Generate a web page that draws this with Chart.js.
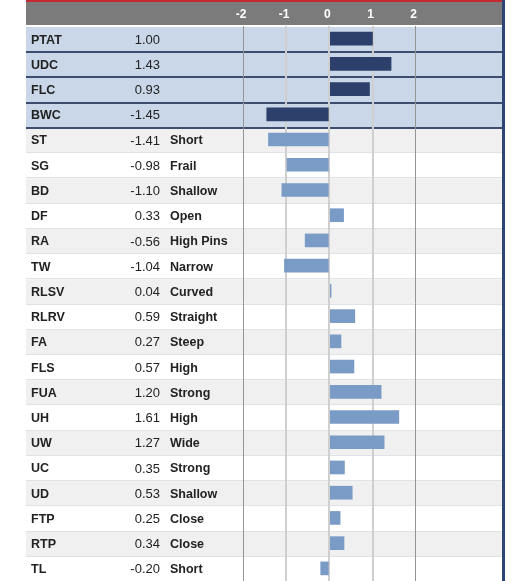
<!DOCTYPE html>
<html>
<head>
<meta charset="utf-8">
<script src="https://cdn.jsdelivr.net/npm/chart.js@4.4.0/dist/chart.umd.min.js"></script>
<style>
  body { margin: 0; background: #fff; }
  #wrap { width: 513px; height: 581px; position: relative; }
</style>
</head>
<body>
<div id="wrap"><canvas id="chart"></canvas></div>
<script>
// Data
const codes = ['PTAT', 'UDC', 'FLC', 'BWC', 'ST', 'SG', 'BD', 'DF', 'RA', 'TW', 'RLSV',
               'RLRV', 'FA', 'FLS', 'FUA', 'UH', 'UW', 'UC', 'UD', 'FTP', 'RTP', 'TL'];
const scores = [1.00, 1.43, 0.93, -1.45, -1.41, -0.98, -1.10, 0.33, -0.56, -1.04, 0.04,
                0.59, 0.27, 0.57, 1.20, 1.61, 1.27, 0.35, 0.53, 0.25, 0.34, -0.20];
const notes = ['', '', '', '', 'Short', 'Frail', 'Shallow', 'Open', 'High Pins', 'Narrow', 'Curved',
               'Straight', 'Steep', 'High', 'Strong', 'High', 'Wide', 'Strong', 'Shallow', 'Close', 'Close', 'Short'];
const tickValues = [-2, -1, 0, 1, 2];
const topGroup = 4; // first rows shown highlighted

const FONT = '"Liberation Sans", Arial, sans-serif';
const TABLE_LEFT = 26, TABLE_RIGHT = 502;

// table backgrounds, header band, row text
const tablePlugin = {
    id: 'table',
    beforeDraw(chart) {
        const ctx = chart.ctx;
        const y = chart.scales.y;
        const area = chart.chartArea;
        const step = (area.bottom - area.top) / codes.length;
        ctx.save();
        ctx.fillStyle = '#c5282f';
        ctx.fillRect(TABLE_LEFT, 0, TABLE_RIGHT - TABLE_LEFT, 2);
        ctx.fillStyle = '#7b7b7b';
        ctx.fillRect(TABLE_LEFT, 2, TABLE_RIGHT - TABLE_LEFT, 23);
        codes.forEach((c, i) => {
            const cy = y.getPixelForValue(i);
            const top = cy - step / 2;
            if (i < topGroup) ctx.fillStyle = '#c9d7e8';
            else ctx.fillStyle = (i - topGroup) % 2 === 0 ? '#f0f0f0' : '#ffffff';
            ctx.fillRect(TABLE_LEFT, top + 1, TABLE_RIGHT - TABLE_LEFT, step);
        });
        codes.forEach((c, i) => {
            const cy = y.getPixelForValue(i);
            const bottom = Math.round(cy + step / 2);
            if (i < topGroup) {
                ctx.fillStyle = '#3d4d6d';
                ctx.fillRect(TABLE_LEFT, bottom, TABLE_RIGHT - TABLE_LEFT, 2);
            } else {
                ctx.fillStyle = '#dfe3e8';
                ctx.fillRect(TABLE_LEFT, bottom, TABLE_RIGHT - TABLE_LEFT, 1);
            }
        });
        ctx.restore();
    },
    afterDraw(chart) {
        const ctx = chart.ctx;
        const y = chart.scales.y;
        ctx.save();
        ctx.textBaseline = 'middle';
        ctx.fillStyle = '#222';
        codes.forEach((c, i) => {
            const cy = y.getPixelForValue(i) + 1.5;
            ctx.font = 'bold 12.5px ' + FONT;
            ctx.textAlign = 'left';
            ctx.fillText(c, 31, cy);
            ctx.font = '13px ' + FONT;
            ctx.textAlign = 'right';
            ctx.fillText(scores[i].toFixed(2), 160, cy);
            if (notes[i]) {
                ctx.font = 'bold 12.5px ' + FONT;
                ctx.textAlign = 'left';
                ctx.fillText(notes[i], 170, cy);
            }
        });
        ctx.fillStyle = '#2f4675';
        ctx.fillRect(502, 0, 3, 581);
        ctx.restore();
    }
};

new Chart(document.getElementById('chart'), {
    type: 'bar',
    data: {
        labels: codes,
        datasets: [{
            data: scores,
            backgroundColor: codes.map((c, i) => i < topGroup ? '#2d406b' : '#7a9bc5'),
            borderWidth: 0,
            barThickness: 13
        }]
    },
    options: {
        indexAxis: 'y',
        responsive: true,
        maintainAspectRatio: false,
        animation: false,
        layout: { padding: { left: 243, right: 11, top: 2, bottom: 0 } },
        plugins: { legend: { display: false }, tooltip: { enabled: false } },
        scales: {
            x: {
                position: 'top',
                min: -2,
                max: 4,
                afterBuildTicks: (axis) => { axis.ticks = tickValues.map(v => ({ value: v })); },
                afterFit: (axis) => { axis.height = 24; },
                border: { display: false },
                grid: {
                    drawTicks: false,
                    color: (ctx) => (ctx.tick && Math.abs(ctx.tick.value) === 2) ? '#959595' : '#cfcfcf',
                    lineWidth: (ctx) => (ctx.tick && Math.abs(ctx.tick.value) === 2) ? 1 : 2
                },
                ticks: {
                    color: '#ffffff',
                    padding: 4,
                    labelOffset: -2,
                    font: { family: FONT, size: 12, weight: 'bold' },
                    callback: (v) => String(v)
                }
            },
            y: {
                display: false
            }
        }
    },
    plugins: [tablePlugin]
});
</script>
</body>
</html>
